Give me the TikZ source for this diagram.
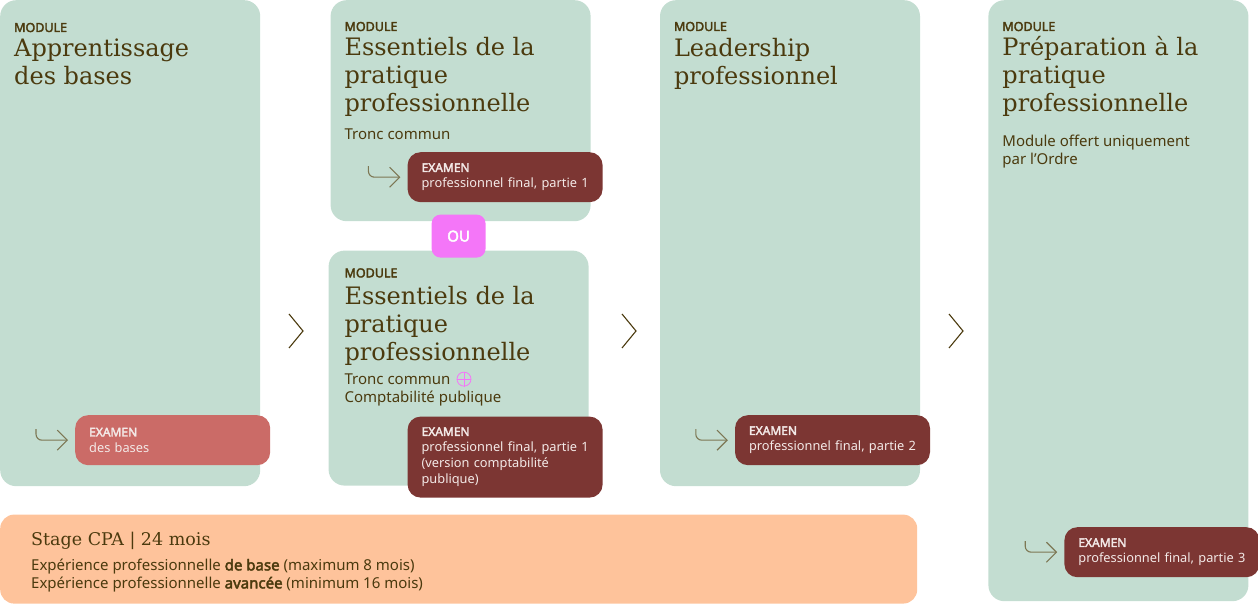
\documentclass[tikz,border=0pt]{standalone}
\usepackage{fontspec}
\setmainfont{Noto Sans}[AutoFakeBold=2.8]
\newfontfamily\titlefont{DejaVu Serif}
\usetikzlibrary{
arrows.meta,
positioning,
calc
}

\definecolor{modgreen}{HTML}{C3DDD1}
\definecolor{inkbrown}{HTML}{4B3A0E}
\definecolor{examdark}{HTML}{7C3633}
\definecolor{examlight}{HTML}{CB6B67}
\definecolor{examink}{HTML}{F3E9E7}
\definecolor{stageorange}{HTML}{FEC39B}
\definecolor{oupink}{HTML}{F476F8}
\definecolor{hookolive}{HTML}{7D7754}

\begin{document}
\begin{tikzpicture}[
      x=1pt,y=1pt,
      module/.style={
        fill=modgreen,
        rounded corners=16pt,
        anchor=north west,
        inner sep=0pt,
        minimum width=260pt
      },
      modtag/.style={
        anchor=base west,
        inner sep=0pt,
        text=inkbrown,
        font=\fontsize{12.5}{14}\selectfont\bfseries
      },
      modtitle/.style={
        anchor=base west,
        inner sep=0pt,
        text=inkbrown,
        align=left,
        font=\titlefont\fontsize{24}{28}\selectfont
      },
      modtext/.style={
        anchor=base west,
        inner sep=0pt,
        text=inkbrown,
        align=left,
        font=\fontsize{15}{18}\selectfont
      },
      exam/.style={
        fill=examdark,
        rounded corners=13pt,
        text=examink,
        anchor=south west,
        inner xsep=14pt,
        inner ysep=0pt,
        text width=167pt,
        minimum height=50pt,
        align=left,
        font=\fontsize{12.8}{16}\selectfont
      },
      hook/.style={
        draw=hookolive,
        line width=1.1pt,
        rounded corners=6pt,
        shorten >=7pt,
        -{Straight Barb[length=10pt,width=20pt]}
      },
      chevron/.style={
        draw=inkbrown,
        line width=1.1pt
      }
    ]
    \useasboundingbox (0,0) rectangle (1258,604);

    % module boxes
    \node[module,minimum height=486pt] (m1) at (0,604) {};
    \node[module,minimum height=221pt,xshift=70pt] (m2a) at (m1.north east) {};
    \node[module,minimum height=235pt,xshift=-2pt,yshift=-29pt] (m2b) at (m2a.south west) {};
    \node[module,minimum height=486pt,xshift=69pt] (m3) at (m2a.north east) {};
    \node[module,minimum height=601pt,xshift=68pt] (m4) at (m3.north east) {};
    \node[module,fill=stageorange,rounded corners=14pt,minimum width=917pt,minimum height=89pt,yshift=-28pt] (stage) at (m1.south west) {};

    % module 1
    \node[modtag,xshift=14pt,yshift=-32pt] (k1) at (m1.north west) {MODULE};
    \node[modtitle,yshift=-53pt] (t1) at (k1.base west) {Apprentissage\\des bases};
    \node[exam,fill=examlight,xshift=75pt,yshift=21pt] (x1) at (m1.south west) {{\bfseries\fontsize{12}{16}\selectfont EXAMEN}\\des bases};

    % module 2, tronc commun
    \node[modtag,xshift=14pt,yshift=-31pt] (k2) at (m2a.north west) {MODULE};
    \node[modtitle,yshift=-81pt] (t2) at (k2.base west) {Essentiels de la\\pratique\\professionnelle};
    \node[modtext,yshift=-28pt] (b2) at (t2.base west) {Tronc commun};
    \node[exam,xshift=77pt,yshift=19pt] (x2) at (m2a.south west) {{\bfseries\fontsize{12}{16}\selectfont EXAMEN}\\\mbox{professionnel final, partie 1}};

    \node[fill=oupink,rounded corners=9pt,anchor=north west,minimum width=54pt,minimum height=43pt,inner sep=0pt,text=white,font=\fontsize{15}{18}\selectfont\bfseries,xshift=101pt,yshift=7pt] (ou) at (m2a.south west) {OU};

    % module 2, comptabilite publique
    \node[modtag,xshift=16pt,yshift=-27pt] (k3) at (m2b.north west) {MODULE};
    \node[modtitle,yshift=-83pt] (t3) at (k3.base west) {Essentiels de la\\pratique\\professionnelle};
    \node[modtext,yshift=-24pt] (b3) at (t3.base west) {Tronc commun};
    \node[draw=oupink,circle,line width=0.8pt,minimum size=14pt,inner sep=0pt,right=6pt of b3] (plus) {};
    \draw[oupink,line width=0.8pt] (plus.north) -- (plus.south) (plus.west) -- (plus.east);
    \node[modtext,yshift=-18pt] (c3) at (b3.base west) {Comptabilité publique};
    \node[exam,minimum height=81pt,xshift=79pt,yshift=-12pt] (x3) at (m2b.south west) {{\bfseries\fontsize{12}{16}\selectfont EXAMEN}\\\mbox{professionnel final, partie 1}\\(version comptabilité\\publique)};

    % module 3
    \node[modtag,xshift=14pt,yshift=-31pt] (k4) at (m3.north west) {MODULE};
    \node[modtitle,yshift=-54pt] (t4) at (k4.base west) {Leadership\\professionnel};
    \node[exam,xshift=75pt,yshift=21pt] (x4) at (m3.south west) {{\bfseries\fontsize{12}{16}\selectfont EXAMEN}\\\mbox{professionnel final, partie 2}};

    % module 4
    \node[modtag,xshift=14pt,yshift=-31pt] (k5) at (m4.north west) {MODULE};
    \node[modtitle,yshift=-81pt] (t5) at (k5.base west) {Préparation à la\\pratique\\professionnelle};
    \node[modtext,yshift=-53pt] (b5) at (t5.base west) {Module offert uniquement\\par l’Ordre};
    \node[exam,xshift=76pt,yshift=24pt] (x5) at (m4.south west) {{\bfseries\fontsize{12}{16}\selectfont EXAMEN}\\\mbox{professionnel final, partie 3}};

    % stage
    \node[modtitle,font=\titlefont\fontsize{17.5}{20}\selectfont,xshift=31pt,yshift=-31pt] (s1) at (stage.north west) {Stage CPA | 24 mois};
    \node[modtext,yshift=-25pt] (s2) at (s1.base west) {Expérience professionnelle \textbf{de base} (maximum 8 mois)};
    \node[modtext,yshift=-18pt] (s3) at (s2.base west) {Expérience professionnelle \textbf{avancée} (minimum 16 mois)};

    % hooks into the exams
    \foreach \ex in {x1,x2,x4,x5}{
      \coordinate[xshift=-39pt,yshift=11pt] (h\ex) at (\ex.west);
      \draw[hook] (h\ex) |- (\ex.west);
    }

    % chevrons between the columns
    \foreach \x in {303,636,963}
      \draw[chevron] (\x-14,290) -- (\x,273) -- (\x-14,256);

  \end{tikzpicture}
\end{document}
